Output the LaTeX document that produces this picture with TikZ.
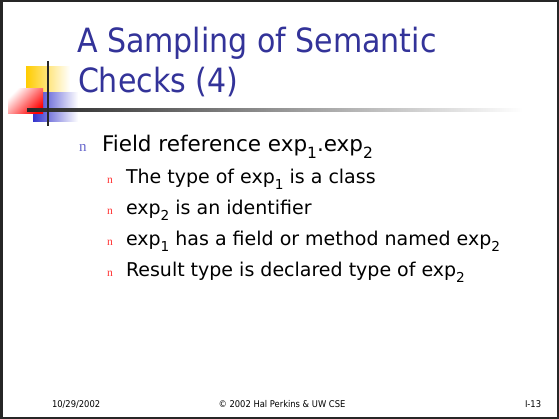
\documentclass[tikz,border=0pt]{standalone}
\usepackage{fontspec}
\IfFontExistsTF{DejaVu Sans Condensed}{\setmainfont{DejaVu Sans Condensed}}{\setmainfont{DejaVu Sans}}
\newfontfamily\bodyfont{DejaVu Sans}
\newfontfamily\bulfont{Liberation Serif}
\definecolor{titleblue}{HTML}{333399}
\definecolor{bulblue}{HTML}{6666CC}
\definecolor{bulred}{HTML}{FF3333}
\definecolor{logoyellow}{HTML}{FFCC00}
\definecolor{logored}{HTML}{FF0000}
\definecolor{logoblue}{HTML}{3333CC}
\newcommand{\subidx}[1]{\raisebox{-0.28em}{\scalebox{0.72}{#1}}}
\tikzset{
  txt/.style={anchor=base west, inner sep=0pt, outer sep=0pt},
  title/.style={txt, text=titleblue, font=\fontsize{33.4}{33.4}\selectfont},
  lvlone/.style={txt, font=\bodyfont\fontsize{21.5}{21.5}\selectfont},
  lvltwo/.style={txt, font=\bodyfont\fontsize{19}{19}\selectfont},
  bulone/.style={txt, text=bulblue, font=\bulfont\fontsize{15}{15}\selectfont},
  bultwo/.style={txt, text=bulred, font=\bulfont\fontsize{11.5}{11.5}\selectfont},
  foot/.style={txt, font=\fontsize{9.3}{9.3}\selectfont},
}
\begin{document}
\begin{tikzpicture}[x=1pt,y=-1pt]
\useasboundingbox (0,0) rectangle (559,419);
\fill[white] (0,0) rectangle (559,419);
\draw[line width=2.5pt, black!85] (1.25,1.25) rectangle (557.75,417.75);
% logo
\shade[left color=logoyellow, middle color=logoyellow, right color=white] (26,67) rectangle (70,100);
\shade[left color=logoblue, middle color=logoblue, right color=white] (33,93) rectangle (78,122);
\shade[left color=white, right color=logored, shading angle=45] (8,89) rectangle (43,114);
\shade[left color=black!85, right color=white] (27,109) rectangle (523,111.5);
\draw[line width=1.5pt, black!85] (48,61) -- (48,126);
% title
\node[title] (t1) at (77,53) {A Sampling of Semantic};
\node[title] (t2) at (78,93) {Checks (4)};
% bullets
\node[bulone] (b0) at (79,152) {n};
\node[lvlone] (l0) at (102,152) {Field reference exp\subidx{1}.exp\subidx{2}};
\node[bultwo] (b1) at (107,184) {n};
\node[lvltwo] (l1) at (126,184) {The type of exp\subidx{1} is a class};
\node[bultwo] (b2) at (107,215) {n};
\node[lvltwo] (l2) at (126,215) {exp\subidx{2} is an identifier};
\node[bultwo] (b3) at (107,246) {n};
\node[lvltwo] (l3) at (126,246) {exp\subidx{1} has a field or method named exp\subidx{2}};
\node[bultwo] (b4) at (107,277) {n};
\node[lvltwo] (l4) at (126,277) {Result type is declared type of exp\subidx{2}};
% footer
\node[foot] (f1) at (52,407) {10/29/2002};
\node[foot, anchor=base] (f2) at (282,407) {\copyright{} 2002 Hal Perkins \& UW CSE};
\node[foot] (f3) at (525,407) {I-13};
\end{tikzpicture}
\end{document}
